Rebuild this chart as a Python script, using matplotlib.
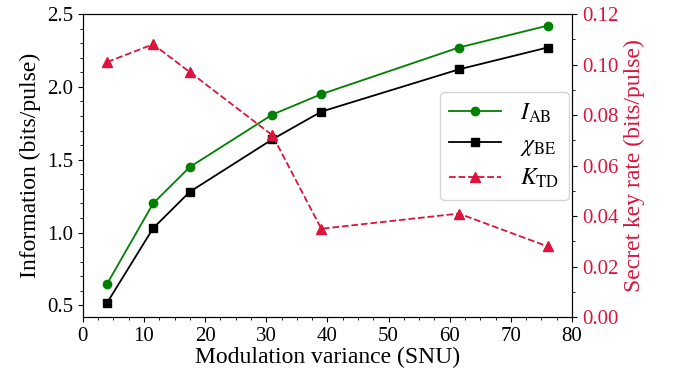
import matplotlib
matplotlib.use('Agg')
import matplotlib.pyplot as plt
from matplotlib.ticker import MultipleLocator

# values
variance = [4, 11.5, 17.5, 31, 39, 61.5, 76]
i_ab = [0.65, 1.20, 1.45, 1.81, 1.95, 2.27, 2.42]
chi_be = [0.52, 1.03, 1.28, 1.64, 1.83, 2.12, 2.27]
k_td = [0.101, 0.108, 0.097, 0.072, 0.035, 0.041, 0.028]

plt.rcParams['font.family'] = ['Liberation Serif', 'DejaVu Serif']
plt.rcParams['mathtext.fontset'] = 'stix'
plt.rcParams['font.size'] = 15

red = '#dc143c'

fig, ax = plt.subplots(figsize=(6.73, 3.78), dpi=100)
fig.subplots_adjust(left=0.123, right=0.850, top=0.963, bottom=0.161)
ax2 = ax.twinx()

l1, = ax.plot(variance, i_ab, color='green', marker='o', ms=6, lw=1.3,
              label=r'$I_{\rm AB}$')
l2, = ax.plot(variance, chi_be, color='black', marker='s', ms=6, lw=1.3,
              label=r'$\chi_{\rm BE}$')
l3, = ax2.plot(variance, k_td, color=red, marker='^', ms=6.5, lw=1.3,
               ls='--', label=r'$K_{\rm TD}$')

ax.set_xlim(0, 80)
ax.set_ylim(0.42, 2.5)
ax2.set_ylim(0, 0.12)
ax.set_xticks(range(0, 81, 10))
ax.set_yticks([0.5, 1.0, 1.5, 2.0, 2.5])
ax2.set_yticks([0, 0.02, 0.04, 0.06, 0.08, 0.10, 0.12])
ax2.set_yticklabels(['%.2f' % v for v in [0, 0.02, 0.04, 0.06, 0.08, 0.10, 0.12]])
ax.xaxis.set_minor_locator(MultipleLocator(2.5))
ax.yaxis.set_minor_locator(MultipleLocator(0.1))
ax2.yaxis.set_minor_locator(MultipleLocator(0.01))

ax.set_xlabel('Modulation variance (SNU)', fontsize=17, labelpad=1)
ax.set_ylabel('Information (bits/pulse)', fontsize=17)
ax2.set_ylabel('Secret key rate (bits/pulse)', color=red, fontsize=17)
ax2.tick_params(axis='y', which='both', colors=red)
ax2.tick_params(axis='y', which='both', color='black')

ax2.legend(handles=[l1, l2, l3], loc='upper left',
           bbox_to_anchor=(0.730, 0.743), borderaxespad=0, fontsize=17,
           handlelength=2.2, labelspacing=0.4)

fig.savefig('out.png', dpi=100)
